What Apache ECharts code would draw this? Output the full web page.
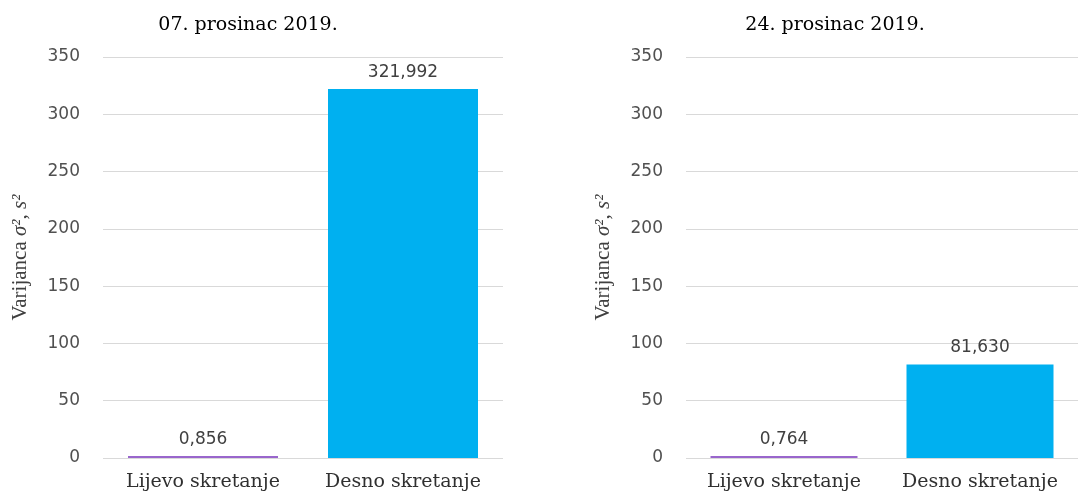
<!DOCTYPE html>
<html>
<head>
<meta charset="utf-8">
<script src="https://cdn.jsdelivr.net/npm/echarts@6/dist/echarts.min.js"></script>
<style>html,body{margin:0;padding:0;background:#fff}#c{width:1078px;height:493px}</style>
</head>
<body>
<div id="c"></div>
<script>
var categories = ['Lijevo skretanje', 'Desno skretanje'];
var values07 = [0.856, 321.992];
var values24 = [0.764, 81.630];
var titles = ['07. prosinac 2019.', '24. prosinac 2019.'];
var yMin = 0, yMax = 350, yStep = 50;
var barColors = ['#9966CC', '#00B0F0'];

function fmt(v){ return v.toFixed(3).replace('.', ','); }

var grids = [
  {left: 103, top: 57, width: 400, height: 401},
  {left: 686, top: 57, width: 398, height: 401}
];

function yAxis(i){
  return {
    gridIndex: i, type: 'value', min: yMin, max: yMax, interval: yStep,
    name: 'Varijanca {i|σ²}, {i|s²}', nameLocation: 'middle', nameGap: 72, nameRotate: 90,
    nameTextStyle: {fontFamily: 'Liberation Serif', fontSize: 21, color: '#404040',
      rich: {i: {fontFamily: 'Liberation Serif', fontStyle: 'italic', fontSize: 21, color: '#404040'}}},
    axisLine: {show: false}, axisTick: {show: false},
    axisLabel: {margin: 23, color: '#505050', fontFamily: 'DejaVu Sans', fontSize: 17},
    splitLine: {lineStyle: {color: '#d9d9d9', width: 1}}
  };
}
function xAxis(i){
  return {
    gridIndex: i, type: 'category', data: categories, z: 0,
    axisLine: {show: false}, axisTick: {show: false},
    axisLabel: {margin: 15, color: '#303030', fontFamily: 'DejaVu Serif', fontSize: 19, interval: 0}
  };
}
function series(i, vals){
  return {
    type: 'bar', xAxisIndex: i, yAxisIndex: i, barCategoryGap: '25%', z: 5, barMinHeight: 2,
    data: vals.map(function(v, k){ return {value: v, itemStyle: {color: barColors[k]}}; }),
    label: {show: true, position: 'top', distance: 8, color: '#404040', fontFamily: 'DejaVu Sans', fontSize: 17,
      formatter: function(p){ return fmt(p.value); }}
  };
}

var chart = echarts.init(document.getElementById('c'));
chart.setOption({
  animation: false,
  title: [
    {text: titles[0], left: 243, top: 11, textAlign: 'center', textStyle: {fontFamily: 'DejaVu Serif', fontSize: 19, fontWeight: 'normal', color: '#000'}},
    {text: titles[1], left: 830, top: 11, textAlign: 'center', textStyle: {fontFamily: 'DejaVu Serif', fontSize: 19, fontWeight: 'normal', color: '#000'}}
  ],
  grid: grids,
  xAxis: [xAxis(0), xAxis(1)],
  yAxis: [yAxis(0), yAxis(1)],
  series: [series(0, values07), series(1, values24)]
});
</script>
</body>
</html>
